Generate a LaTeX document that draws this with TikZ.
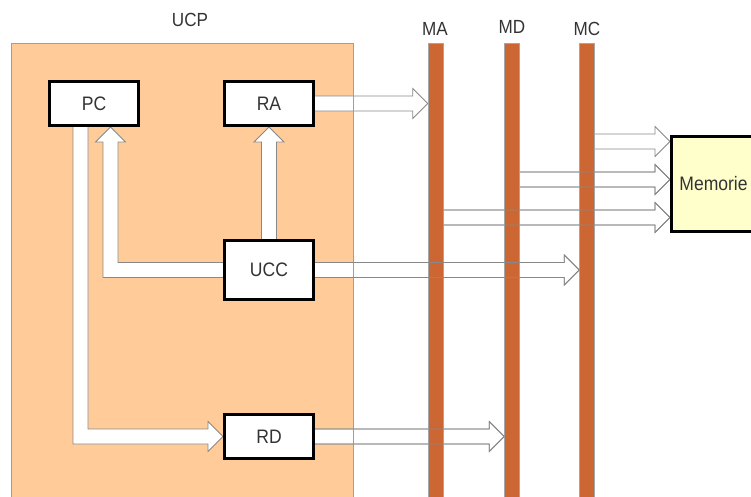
\documentclass[tikz,border=0pt]{standalone}
\usepackage{fontspec}
\setmainfont{Liberation Sans}[FakeStretch=0.9]
\usetikzlibrary{calc}
\definecolor{peach}{HTML}{FFCC99}
\definecolor{bus}{HTML}{CC6633}
\definecolor{memfill}{HTML}{FFFFCC}
\definecolor{txt}{HTML}{333333}
\definecolor{arrline}{HTML}{888888}
% horizontal block arrow: style, start point, point giving tip x
\newcommand\harr[3]{\path[#1] let \p1=(#2), \p2=(#3) in
  (\x1,{\y1+7.5pt}) -- ({\x2-15pt},{\y1+7.5pt}) -- ({\x2-15pt},{\y1+15pt}) -- (\x2,\y1)
  -- ({\x2-15pt},{\y1-15pt}) -- ({\x2-15pt},{\y1-7.5pt}) -- (\x1,{\y1-7.5pt});}
% upward block arrow: style, start point, point giving tip y
\newcommand\uarr[3]{\path[#1] let \p1=(#2), \p2=(#3) in
  ({\x1-7.5pt},\y1) -- ({\x1-7.5pt},{\y2-15pt}) -- ({\x1-15pt},{\y2-15pt}) -- (\x1,\y2)
  -- ({\x1+15pt},{\y2-15pt}) -- ({\x1+7.5pt},{\y2-15pt}) -- ({\x1+7.5pt},\y1);}
\begin{document}
\begin{tikzpicture}[x=1pt,y=-1pt,
  box/.style={draw=black, line width=3pt, fill=white, minimum width=89pt, inner sep=0pt,
    font=\fontsize{19.5}{22}\selectfont, text=txt},
  busbar/.style={draw=gray!70, line width=0.6pt, fill=bus, minimum width=15pt,
    minimum height=480pt, inner sep=0pt, anchor=north},
  lbl/.style={font=\fontsize{19}{22}\selectfont, text=txt, inner sep=0pt},
  afill/.style={fill=white, draw=arrline, line width=0.8pt},
  aline/.style={draw=arrline, line width=0.8pt},
]
\useasboundingbox (0,0) rectangle (751,496);
% UCP area
\fill[peach] (11,43) rectangle (353,520);
\node[lbl] (ucplbl) at (190,20) {UCP};

% placement of nodes (drawn later, on top)
\path (94,103.5) node[box, minimum height=44pt, draw=none, fill=none] (PC) {}
      (269,103.5) node[box, minimum height=44pt, draw=none, fill=none] (RA) {}
      (269,270) node[box, minimum height=59pt, draw=none, fill=none] (UCC) {}
      (269,436.5) node[box, minimum height=44pt, draw=none, fill=none] (RD) {};
\path (435.5,43) node[busbar, draw=none, fill=none] (MA) {}
      (512,43) node[busbar, draw=none, fill=none] (MD) {}
      (587,43) node[busbar, draw=none, fill=none] (MC) {};
\path (670,184) node[anchor=west, minimum width=100pt, minimum height=95pt, inner sep=0pt] (Mem) {};
\coordinate (m1) at (Mem.west |- 0,141.5);
\coordinate (m2) at (Mem.west |- 0,179.5);
\coordinate (m3) at (Mem.west |- 0,217.5);
\coordinate (pcin) at ([xshift=16.5pt]PC.south);
\coordinate (pcout) at ([xshift=-13.5pt]PC.south);
\coordinate (c1) at (pcin |- UCC.west);

% arrows, filled
\harr{afill}{RA.east}{MA.west}
\harr{afill}{UCC.east}{MC.west}
\harr{afill}{RD.east}{MD.west}
\harr{afill}{MC.east |- m1}{m1}
\harr{afill}{MD.east |- m2}{m2}
\harr{afill}{MA.east |- m3}{m3}
\uarr{afill}{UCC.north}{RA.south}
% UCC -> PC (L-shaped)
\path[afill] let \p1=(UCC.west), \p2=(c1), \p3=(pcin) in
  (\x1,{\y1+7.5pt}) -- ({\x2+7.5pt},{\y1+7.5pt}) -- ({\x2+7.5pt},{\y3-15pt}) -- ({\x2+15pt},{\y3-15pt})
  -- (\x2,\y3) -- ({\x2-15pt},{\y3-15pt}) -- ({\x2-7.5pt},{\y3-15pt}) -- ({\x2-7.5pt},{\y1-7.5pt}) -- (\x1,{\y1-7.5pt});
% PC -> RD (L-shaped)
\path[afill] let \p1=(pcout), \p2=(RD.west) in
  ({\x1-7.5pt},\y1) -- ({\x1-7.5pt},{\y2-7.5pt}) -- ({\x2-15pt},{\y2-7.5pt}) -- ({\x2-15pt},{\y2-15pt})
  -- (\x2,\y2) -- ({\x2-15pt},{\y2+15pt}) -- ({\x2-15pt},{\y2+7.5pt}) -- ({\x1+7.5pt},{\y2+7.5pt}) -- ({\x1+7.5pt},\y1);

% UCP border
\draw[gray!75, line width=0.7pt] (11,520) -- (11,43) -- (353,43) -- (353,520);

% buses
\node[busbar] at (435.5,43) {};
\node[busbar] at (512,43) {};
\node[busbar] at (587,43) {};
\node[lbl] (malbl) at (435,29) {MA};
\node[lbl] (mdlbl) at (512,27) {MD};
\node[lbl] (mclbl) at (587,29) {MC};

% arrow outlines over the buses
\harr{aline}{UCC.east}{MC.west}
\harr{aline}{RD.east}{MD.west}
\harr{aline}{MD.east |- m2}{m2}
\harr{aline}{MA.east |- m3}{m3}

% boxes
\node[box, minimum height=44pt] at (PC) {PC};
\node[box, minimum height=44pt] at (RA) {RA};
\node[box, minimum height=59pt] at (UCC) {UCC};
\node[box, minimum height=44pt] at (RD) {RD};
\node[box, fill=memfill, anchor=west, minimum width=100pt, minimum height=95pt, text=black!80] at (Mem.west) {\hspace*{-16pt}Memorie};
\end{tikzpicture}
\end{document}
